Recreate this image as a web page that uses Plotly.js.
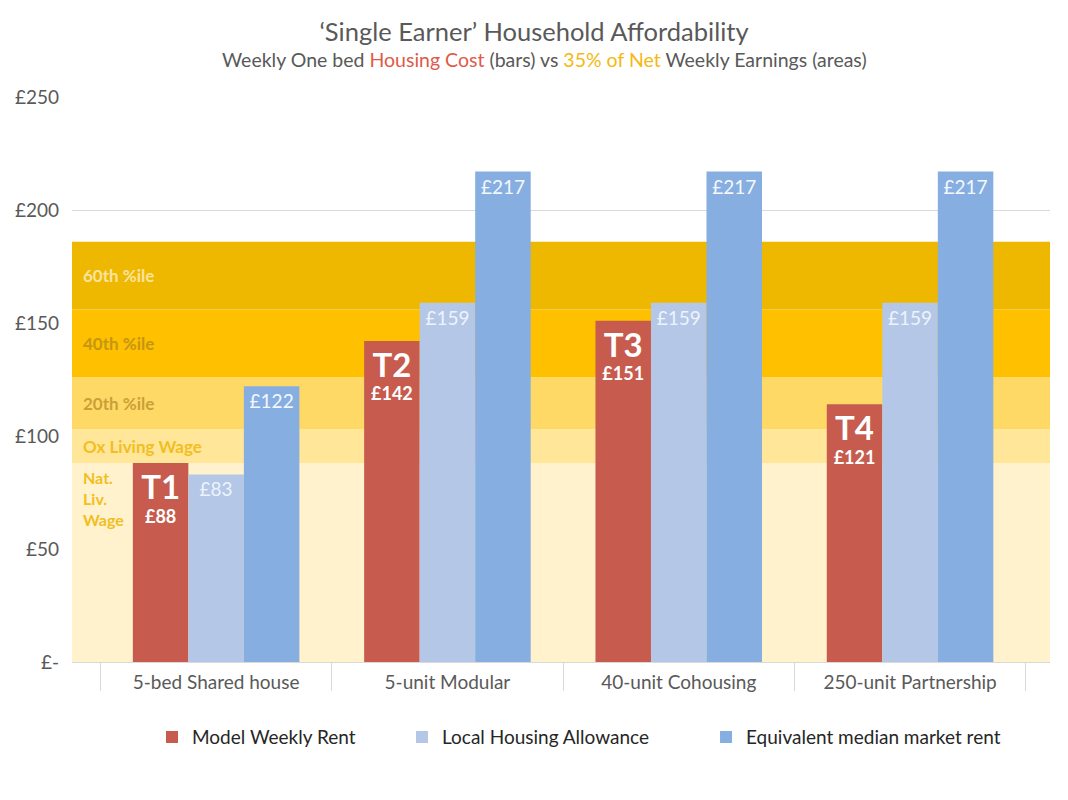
<!DOCTYPE html>
<html>
<head>
<meta charset="utf-8">
<script src="https://cdn.plot.ly/plotly-3.0.1.min.js"></script>
<style>html,body{margin:0;padding:0;background:#fff;}#chart{width:1068px;height:800px;}</style>
</head>
<body>
<div id="chart"></div>
<script>
// ---- data ----
const categories = ['5-bed Shared house', '5-unit Modular', '40-unit Cohousing', '250-unit Partnership'];
const modelRent = [88, 142, 151, 114];
const modelTags = ['T1', 'T2', 'T3', 'T4'];
const modelLabels = ['£88', '£142', '£151', '£121'];
const lhaRent = [83, 159, 159, 159];
const marketRent = [122, 217, 217, 217];
const seriesNames = ['Model Weekly Rent', 'Local Housing Allowance', 'Equivalent median market rent'];
const bandNames = ['Nat.<br>Liv.<br>Wage', 'Ox Living Wage', '20th %ile', '40th %ile', '60th %ile'];
const bandTops = [88, 103, 126, 156, 186];
const yTickVals = [0, 50, 100, 150, 200, 250];
const yTickText = ['£-', '£50', '£100', '£150', '£200', '£250'];

// ---- styles ----
const FONT = 'Lato, "Open Sans", sans-serif';
const bandFill = ['#FFF2CC', '#FFE699', '#FFD966', '#FFC000', '#EFB800'];
const bandText = ['#F2BE22', '#F2BE22', '#C9A038', '#C59614', '#FBE3A0'];
const barColors = ['#C65B4E', '#B4C7E7', '#86AEE0'];

const traces = [];
// earnings areas (stacked fills) on numeric axis x
bandTops.forEach((top, i) => {
  traces.push({
    type: 'scatter', mode: 'none', x: [0, 1], y: [top, top],
    fill: i === 0 ? 'tozeroy' : 'tonexty', fillcolor: bandFill[i],
    xaxis: 'x', yaxis: 'y', showlegend: false, hoverinfo: 'skip'
  });
});

traces.push({
  type: 'bar', name: seriesNames[0], x: categories, y: modelRent, legend: 'legend',
  xaxis: 'x2', yaxis: 'y', marker: {color: barColors[0]},
  text: modelTags.map((t, i) => '<span style="font-size:33px"><b>' + t + '</b></span><br><b>' + modelLabels[i] + '</b>'),
  textposition: 'inside', insidetextanchor: 'end', constraintext: 'none',
  textfont: {family: FONT, size: 18, color: '#FFFFFF'}, textangle: 0
});
traces.push({
  type: 'bar', name: seriesNames[1], x: categories, y: lhaRent, legend: 'legend2',
  xaxis: 'x2', yaxis: 'y', marker: {color: barColors[1]},
  texttemplate: '£%{y}', textposition: 'inside', insidetextanchor: 'end', constraintext: 'none',
  textfont: {family: FONT, size: 19, color: '#EEF3FB'}, textangle: 0
});
traces.push({
  type: 'bar', name: seriesNames[2], x: categories, y: marketRent, legend: 'legend3',
  xaxis: 'x2', yaxis: 'y', marker: {color: barColors[2]},
  texttemplate: '£%{y}', textposition: 'inside', insidetextanchor: 'end', constraintext: 'none',
  textfont: {family: FONT, size: 19, color: '#F4F8FD'}, textangle: 0
});

const annotations = [];
bandNames.forEach((name, i) => {
  const lo = i === 0 ? 0 : bandTops[i - 1];
  const isFirst = i === 0;
  annotations.push({
    xref: 'paper', yref: 'y', x: 0.009, xanchor: 'left',
    y: isFirst ? bandTops[i] : (lo + bandTops[i]) / 2,
    yanchor: isFirst ? 'top' : 'middle', yshift: isFirst ? -3 : 0,
    text: '<b>' + name + '</b>', showarrow: false, align: 'left',
    font: {family: FONT, size: isFirst ? 16 : 17, color: bandText[i]}
  });
});
annotations.push({
  xref: 'paper', yref: 'paper', x: 0.4836, y: 1.0655, xanchor: 'center', yanchor: 'middle',
  showarrow: false,
  text: 'Weekly One bed <span style="color:#E05A4A">Housing Cost</span> (bars) vs <span style="color:#F5B90F">35% of Net</span> Weekly Earnings (areas)',
  font: {family: FONT, size: 19.5, color: '#595959'}
});

const legendBase = {orientation: 'h', xanchor: 'left', y: -0.133, yanchor: 'middle',
                    font: {family: FONT, size: 19, color: '#262626'}, bgcolor: 'rgba(0,0,0,0)'};

const layout = {
  width: 1068, height: 800,
  margin: {l: 72, r: 18, t: 97, b: 138},
  paper_bgcolor: '#FFFFFF', plot_bgcolor: '#FFFFFF',
  font: {family: FONT, color: '#595959'},
  title: {text: '‘Single Earner’ Household Affordability', x: 0.5, xanchor: 'center', y: 0.96, yanchor: 'middle', yref: 'container',
          font: {family: FONT, size: 25.5, color: '#595959'}},
  barmode: 'group', bargap: 0.28, bargroupgap: 0,
  xaxis: {range: [0, 1], visible: false, fixedrange: true},
  xaxis2: {overlaying: 'x', type: 'category', range: [-0.623, 3.605],
           showline: true, linecolor: '#D9D9D9', linewidth: 1,
           ticks: 'outside', tickson: 'boundaries', ticklen: 28, tickcolor: '#D9D9D9', tickwidth: 1,
           ticklabelstandoff: 3,
           tickfont: {family: FONT, size: 19, color: '#595959'}, showgrid: false},
  yaxis: {range: [0, 250], tickvals: yTickVals, ticktext: yTickText,
          showgrid: true, gridcolor: '#D9D9D9', gridwidth: 1, zeroline: false,
          ticks: '', ticklabelstandoff: 12,
          tickfont: {family: FONT, size: 19, color: '#595959'}},
  legend: Object.assign({}, legendBase, {x: 0.0818}),
  legend2: Object.assign({}, legendBase, {x: 0.3374}),
  legend3: Object.assign({}, legendBase, {x: 0.6483}),
  annotations: annotations,
  showlegend: true
};

Plotly.newPlot('chart', traces, layout, {displayModeBar: false, staticPlot: true});
</script>
</body>
</html>
